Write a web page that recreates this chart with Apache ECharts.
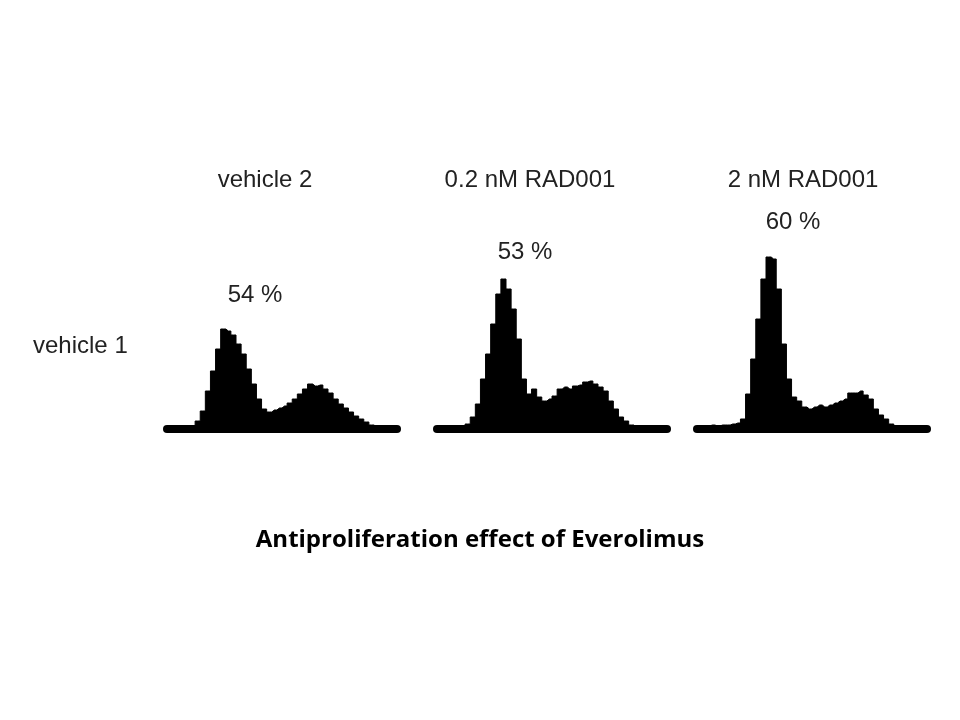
<!DOCTYPE html>
<html><head><meta charset="utf-8">
<script src="https://cdn.jsdelivr.net/npm/echarts@6/dist/echarts.min.js"></script>
<style>html,body{margin:0;background:#fff}#c{width:960px;height:720px}</style>
</head><body><div id="c"></div>
<script>
const panelTitles = ['vehicle 2', '0.2 nM RAD001', '2 nM RAD001'];
const percentLabels = ['54 %', '53 %', '60 %'];
const rowLabel = 'vehicle 1';
const chartTitle = 'Antiproliferation effect of Everolimus';
const vehicle2 = [0,0,1,1,2,3,8,18,38,58,80,100,98,94,85,75,60,45,30,20,17,19,21,23,26,30,35,40,45,43,44,40,36,30,25,21,17,13,10,7,4,2,0,0,0,0];
const rad02 = [0,0,0,0,1,2,5,12,25,50,75,105,135,150,140,120,90,50,35,40,32,28,30,33,40,42,40,43,44,47,48,45,42,38,28,20,12,8,4,2,2,0,0,0,0,0];
const rad2 = [2,3,3,4,3,4,4,5,6,10,35,70,110,150,172,170,140,85,50,32,28,22,20,22,24,22,24,26,28,30,36,36,38,34,30,20,14,10,5,1,0,0,0,0,0,0];
const seriesData = [vehicle2, rad02, rad2];
const bins = vehicle2.map((_, i) => i);
const lefts = [167, 437, 697];
const chart = echarts.init(document.getElementById('c'));
const font = '"Liberation Sans", Arial, sans-serif';
chart.setOption({
  backgroundColor: '#fff',
  animation: false,
  grid: lefts.map(l => ({left: l, width: 230, top: 229, height: 200})),
  xAxis: lefts.map((_, i) => ({type: 'category', gridIndex: i, data: bins, boundaryGap: false,
    axisLine: {lineStyle: {color: '#000', width: 8}}, axisTick: {show: false}, axisLabel: {show: false}})),
  yAxis: lefts.map((_, i) => ({type: 'value', gridIndex: i, min: 0, max: 200, show: false, splitLine: {show: false}})),
  series: seriesData.map((d, i) => ({type: 'line', xAxisIndex: i, yAxisIndex: i, data: d, step: 'middle',
    symbol: 'none', lineStyle: {color: '#000', width: 1}, areaStyle: {color: '#000', opacity: 1}})),
  graphic: [
    ...panelTitles.map((t, i) => ({type: 'text', x: [265, 530, 803][i], y: 180,
      style: {text: t, font: '24px ' + font, fill: '#222', textAlign: 'center', textVerticalAlign: 'middle'}})),
    ...percentLabels.map((t, i) => ({type: 'text', x: [255, 525, 793][i], y: [295, 252, 222][i],
      style: {text: t, font: '24px ' + font, fill: '#222', textAlign: 'center', textVerticalAlign: 'middle'}})),
    {type: 'text', x: 33, y: 346, style: {text: rowLabel, font: '24px ' + font, fill: '#222', textVerticalAlign: 'middle'}},
    {type: 'text', x: 480, y: 540, style: {text: chartTitle, font: 'bold 24px "Open Sans", sans-serif', fill: '#000', textAlign: 'center', textVerticalAlign: 'middle'}}
  ]
});
</script></body></html>
